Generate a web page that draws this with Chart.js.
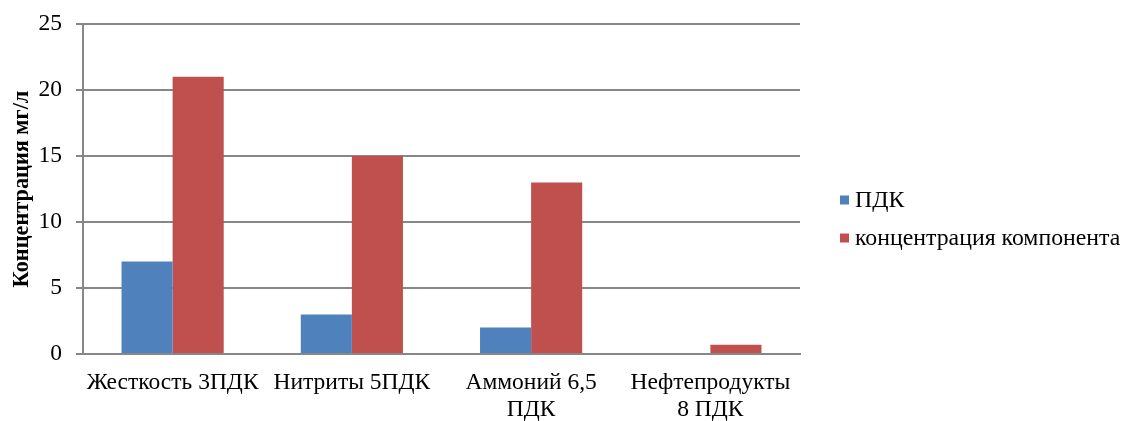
<!DOCTYPE html>
<html>
<head>
<meta charset="utf-8">
<script src="https://cdn.jsdelivr.net/npm/chart.js@4/dist/chart.umd.min.js"></script>
<style>
  html, body { margin: 0; padding: 0; background: #fff; }
  #wrap { width: 1125px; height: 421px; }
</style>
</head>
<body>
<div id="wrap"><canvas id="c" width="1125" height="421"></canvas></div>
<script>
// Категории (показатели с кратностью превышения ПДК)
const categories = [
  ["Жесткость 3ПДК"],
  ["Нитриты 5ПДК"],
  ["Аммоний 6,5", "ПДК"],
  ["Нефтепродукты", "8 ПДК"]
];
const seriesNames = ["ПДК", "концентрация компонента"];
const seriesColors = ["#4F81BD", "#C0504D"];
const pdkValues = [7, 3, 2, 0];
const concValues = [21, 15, 13, 0.7];
const yTicks = [0, 5, 10, 15, 20, 25];
const yTitle = "Концентрация мг/л";

const serif = "'Liberation Serif', 'Times New Roman', serif";
const gridColor = "#878787";
const fontSize = 23.5;

// Легенда справа от области построения: квадратный маркер и подпись ряда
const sideLegend = {
  id: "sideLegend",
  afterDraw(chart) {
    const { ctx, chartArea } = chart;
    const x0 = chartArea.right + 40;
    ctx.save();
    ctx.font = `23.8px ${serif}`;
    ctx.textBaseline = "middle";
    ctx.textAlign = "left";
    chart.data.datasets.forEach((ds, i) => {
      const y = chartArea.top + 176 + i * 38;
      ctx.fillStyle = ds.backgroundColor;
      ctx.fillRect(x0, y - 4.5, 9, 9);
      ctx.fillStyle = "#000";
      ctx.fillText(ds.label, x0 + 15, y + 1);
    });
    ctx.restore();
  }
};

new Chart(document.getElementById("c"), {
  type: "bar",
  data: {
    labels: categories,
    datasets: [
      { label: seriesNames[0], data: pdkValues, backgroundColor: seriesColors[0], borderWidth: 0,
        categoryPercentage: 0.57, barPercentage: 1.0 },
      { label: seriesNames[1], data: concValues, backgroundColor: seriesColors[1], borderWidth: 0,
        categoryPercentage: 0.57, barPercentage: 1.0 }
    ]
  },
  options: {
    responsive: false,
    animation: false,
    layout: { padding: { top: 24, right: 325, bottom: 0, left: 8 } },
    plugins: {
      tooltip: { enabled: false },
      legend: { display: false }
    },
    scales: {
      x: {
        afterFit: (scale) => { scale.height = 67; },
        grid: { display: false, drawTicks: false },
        border: { display: true, color: gridColor, width: 2 },
        ticks: {
          color: "#000",
          padding: 15,
          maxRotation: 0,
          autoSkip: false,
          font: { family: serif, size: fontSize, lineHeight: 1.15 }
        }
      },
      y: {
        min: 0,
        max: 25,
        afterFit: (scale) => { scale.width = 75; scale.paddingTop = 0; scale.paddingBottom = 0; },
        afterBuildTicks: (axis) => { axis.ticks = yTicks.map(v => ({ value: v })); },
        grid: { color: gridColor, lineWidth: 2, tickLength: 7 },
        border: { display: true, color: gridColor, width: 2 },
        ticks: {
          color: "#000",
          padding: 14,
          font: { family: serif, size: fontSize }
        },
        title: {
          display: true,
          text: yTitle,
          color: "#000",
          padding: { top: 1, bottom: 2 },
          font: { family: serif, size: 22.3, weight: "bold", lineHeight: 1.2 }
        }
      }
    }
  },
  plugins: [sideLegend]
});
</script>
</body>
</html>
